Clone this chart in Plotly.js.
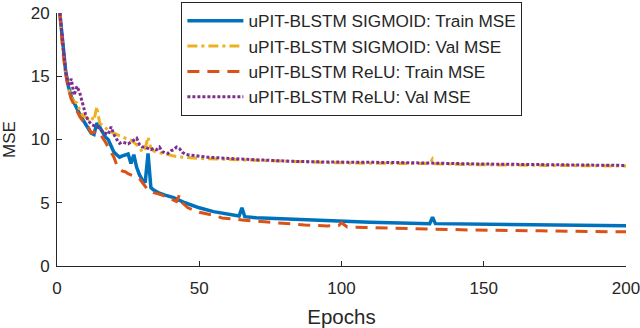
<!DOCTYPE html>
<html>
<head>
<meta charset="utf-8">
<script src="https://cdn.plot.ly/plotly-3.0.1.min.js"></script>
<style>
  html, body { margin: 0; padding: 0; background: #ffffff; }
  #chart { width: 640px; height: 328px; }
</style>
</head>
<body>
<div id="chart"></div>
<script>
// sigmoid model, training loss
const sigTrainEpochs = [1, 2, 3, 4, 5, 6, 7, 8, 9, 10, 11, 12, 13, 14, 15, 16, 17, 18, 19, 20,
  21, 22, 23, 24, 25, 26, 27, 28, 29, 30, 31, 32, 33, 34, 35, 36, 38, 41, 45, 50,
  55, 60, 64, 65, 66, 70, 81, 96, 110, 131, 132, 133, 150, 175, 200];
const sigTrainMse = [20, 17.5, 15.5, 14.2, 13.4, 12.9, 12.4, 12.0, 11.6, 11.2, 10.8, 10.5, 10.4, 11.3, 11.0, 10.6, 10.2, 10.0, 9.5, 9.0,
  8.8, 8.6, 8.7, 8.8, 8.85, 8.1, 8.8, 7.8, 7.2, 6.8, 6.6, 8.9, 6.2, 6.0, 5.85, 5.75, 5.6, 5.4, 5.0, 4.6,
  4.3, 4.1, 3.95, 4.6, 3.9, 3.82, 3.7, 3.56, 3.45, 3.35, 3.85, 3.35, 3.3, 3.25, 3.18];

// sigmoid model, validation loss
const sigValEpochs = [1, 2, 3, 4, 5, 6, 7, 8, 9, 10, 11, 12, 13, 14, 15, 16, 17, 18, 19, 20,
  21, 22, 24, 26, 28, 29, 30, 31, 32, 33, 34, 35, 37, 40, 42, 50, 60, 70, 80, 96,
  110, 131, 132, 133, 150, 175, 200];
const sigValMse = [20, 17.0, 15.2, 14.0, 13.3, 13.0, 12.9, 12.3, 11.9, 11.8, 11.6, 11.8, 11.5, 12.6, 11.3, 11.1, 10.9, 10.75, 10.6, 10.5,
  10.35, 10.3, 10.1, 9.96, 9.6, 9.4, 9.0, 9.3, 10.2, 9.3, 9.1, 9.0, 8.9, 8.75, 8.65, 8.5, 8.42, 8.35, 8.28, 8.17,
  8.12, 8.1, 8.46, 8.08, 8.0, 7.95, 7.9];

// relu model, training loss
const reluTrainEpochs = [1, 2, 3, 4, 5, 6, 7, 8, 9, 10, 11, 12, 13, 14, 15, 16, 17, 18, 19, 20,
  21, 22, 23, 24, 25, 26, 27, 28, 29, 30, 31, 32, 34, 37, 39, 42, 43, 44, 46, 50,
  55, 58, 65, 73, 80, 87, 95, 99, 100, 102, 108, 122, 145, 170, 200];
const reluTrainMse = [20, 17.2, 15.3, 14.0, 13.2, 12.7, 12.2, 11.8, 11.5, 11.2, 11.0, 10.5, 10.6, 10.4, 10.5, 10.2, 9.8, 9.4, 9.0, 8.6,
  8.0, 7.7, 7.5, 7.45, 7.3, 7.2, 7.1, 7.0, 6.9, 6.6, 6.3, 6.0, 5.8, 5.6, 5.4, 5.1, 5.6, 5.0, 4.6, 4.25,
  4.0, 3.8, 3.64, 3.5, 3.4, 3.24, 3.17, 3.2, 3.42, 3.08, 3.05, 2.97, 2.85, 2.78, 2.7];

// relu model, validation loss
const reluValEpochs = [1, 2, 3, 4, 5, 6, 7, 8, 9, 10, 11, 12, 13, 14, 15, 16, 17, 18, 19, 20,
  21, 22, 23, 24, 25, 26, 27, 28, 29, 30, 31, 32, 33, 34, 35, 36, 37, 38, 39, 40,
  41, 42, 43, 44, 45, 46, 50, 53, 65, 82, 95, 120, 150, 175, 200];
const reluValMse = [20, 17.5, 15.5, 14.2, 14.8, 13.5, 14.2, 13.7, 12.8, 12.0, 11.5, 11.2, 11.1, 11.0, 10.9, 10.6, 10.5, 10.4, 11.0, 10.4,
  10.0, 9.7, 9.8, 9.7, 9.65, 9.8, 9.95, 10.1, 9.6, 9.4, 9.4, 9.3, 9.2, 9.3, 9.2, 9.4, 9.05, 8.95, 8.9, 9.1,
  9.2, 9.4, 9.3, 9.0, 8.85, 8.8, 8.7, 8.6, 8.45, 8.28, 8.22, 8.18, 8.06, 8.0, 7.95];

const xTicks = [0, 50, 100, 150, 200];
const yTicks = [0, 5, 10, 15, 20];

const ink = "#262626";

function lossTrace(x, y, name, color, dash, width) {
  return {
    x: x,
    y: y,
    type: "scatter",
    mode: "lines",
    name: name,
    line: { color: color, width: width, dash: dash },
  };
}

function axisStyle(tickvals, title, size) {
  return {
    range: [tickvals[0], tickvals[tickvals.length - 1]],
    tickvals: tickvals,
    ticktext: tickvals.map(String),
    ticks: "inside",
    ticklen: 5,
    tickcolor: ink,
    showline: true,
    linecolor: ink,
    linewidth: 1,
    showgrid: false,
    zeroline: false,
    ticklabeloverflow: "allow",
    tickfont: { size: 17, color: ink },
    title: { text: title, font: { size: size, color: ink } },
  };
}

const traces = [
  lossTrace(sigTrainEpochs, sigTrainMse, "uPIT-BLSTM SIGMOID: Train MSE", "#0072BD", "solid", 3.5),
  lossTrace(sigValEpochs, sigValMse, "uPIT-BLSTM SIGMOID: Val MSE", "#EDB120", "10px,4px,3px,4px", 3),
  lossTrace(reluTrainEpochs, reluTrainMse, "uPIT-BLSTM ReLU: Train MSE", "#D95319", "12px,8px", 3),
  lossTrace(reluValEpochs, reluValMse, "uPIT-BLSTM ReLU: Val MSE", "#7E2F8E", "3px,2px", 3),
];

const xaxis = axisStyle(xTicks, "Epochs", 20.5);
xaxis.ticklabelstandoff = 7;
xaxis.title.standoff = 14;
const yaxis = axisStyle(yTicks, "MSE", 17);
yaxis.ticklabelstandoff = 3;
yaxis.title.standoff = 10;
// leave room above the axes for the legend box
yaxis.domain = [0, 0.9583];

const layout = {
  width: 640,
  height: 328,
  margin: { l: 56.5, r: 14, t: 2, b: 62 },
  paper_bgcolor: "#ffffff",
  plot_bgcolor: "#ffffff",
  font: { family: "Liberation Sans, Arial, sans-serif", color: ink },
  xaxis: xaxis,
  yaxis: yaxis,
  showlegend: true,
  legend: {
    x: 0.2186,
    y: 1,
    xanchor: "left",
    yanchor: "top",
    bgcolor: "#ffffff",
    bordercolor: ink,
    borderwidth: 1,
    font: { size: 17.2, color: ink },
    itemwidth: 56,
  },
};

Plotly.newPlot("chart", traces, layout, { displayModeBar: false, staticPlot: true });
</script>
</body>
</html>
